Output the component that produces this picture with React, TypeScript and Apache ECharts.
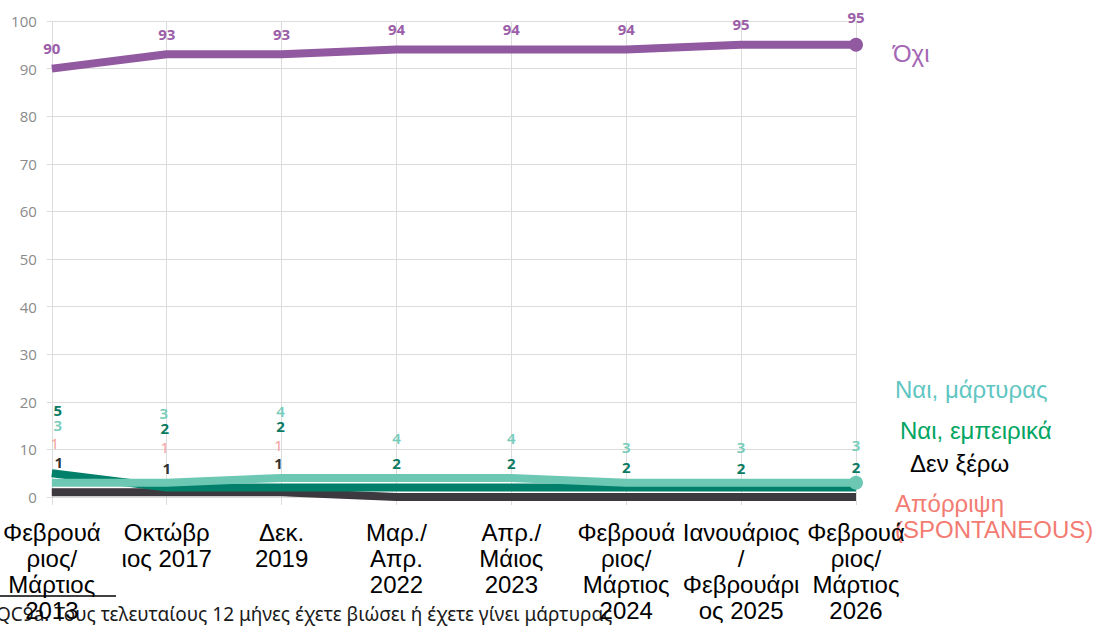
import React, { useEffect, useRef } from "react";
import * as echarts from "echarts";

const categories = [
  "Φεβρουά\nριος/\nΜάρτιος\n2013",
  "Οκτώβρ\nιος 2017",
  "Δεκ.\n2019",
  "Μαρ./\nΑπρ.\n2022",
  "Απρ./\nΜάιος\n2023",
  "Φεβρουά\nριος/\nΜάρτιος\n2024",
  "Ιανουάριος\n/\nΦεβρουάρι\nος 2025",
  "Φεβρουά\nριος/\nΜάρτιος\n2026",
];
const noValues = [90, 93, 93, 94, 94, 94, 95, 95];
const witnessValues = [3, 3, 4, 4, 4, 3, 3, 3];
const experiencedValues = [5, 2, 2, 2, 2, 2, 2, 2];
const dontKnowValues = [1, 1, 1, 0, 0, 0, 0, 0];
const refusalValues = [1, 1, 1, 0, 0, 0, 0, 0];
const seriesNames = ["Όχι", "Ναι, μάρτυρας", "Ναι, εμπειρικά", "Δεν ξέρω", "Απόρριψη (SPONTANEOUS)"];
const yMin = 0;
const yMax = 100;
const yStep = 10;
const footnote = "QC9a. Τους τελευταίους 12 μήνες έχετε βιώσει ή έχετε γίνει μάρτυρας";

// label placement (pixel offsets from the point), kept apart from the data
const witnessLabelOffsets: ([number, number] | null)[] = [[6, -58], [-3, -70], [-1, -67], [0, -40], [0, -40], [0, -36], [0, -36], [0, -38]];
const experiencedLabelOffsets: ([number, number] | null)[] = [[6, -63], [-2, -59], [-1, -61], [0, -24], [0, -24], [0, -20], [0, -19], [0, -20]];
const refusalLabelOffsets: ([number, number] | null)[] = [[3, -49], [-2, -45], [-3, -47], null, null, null, null, null];
const dontKnowLabelOffsets: ([number, number] | null)[] = [[7, -30], [0, -24], [-3, -29], null, null, null, null, null];

const BOLD_FONT = "'Noto Sans', 'DejaVu Sans', sans-serif";
const ARIAL = "'Liberation Sans', Arial, sans-serif";

function buildItems(values: number[], offsets: ([number, number] | null)[]) {
  return values.map((v, i) => ({
    value: v,
    label: offsets[i] ? { show: true, offset: offsets[i] as [number, number] } : { show: false },
  }));
}

export default function App() {
  const ref = useRef<HTMLDivElement>(null);

  useEffect(() => {
    document.body.style.margin = "0";
    if (!ref.current) return;
    const chart = echarts.init(ref.current, undefined, { renderer: "svg" });
    const last = categories.length - 1;
    const endDot = (_v: any, p: any) => (p.dataIndex === last ? 14 : 0);

    const numLabel = (color: string) => ({
      show: true,
      position: "inside" as const,
      color,
      fontFamily: BOLD_FONT,
      fontWeight: "bold",
      fontSize: 15,
    });

    chart.setOption({
      animation: false,
      grid: { left: 50, right: 237, top: 21, bottom: 131 },
      xAxis: {
        type: "category",
        data: categories,
        boundaryGap: false,
        axisLine: { show: true, lineStyle: { color: "#dcdcdc", width: 1 } },
        axisTick: { show: true, length: 8, lineStyle: { color: "#dcdcdc" } },
        splitLine: { show: true, lineStyle: { color: "#dcdcdc", width: 1 } },
        axisLabel: {
          interval: 0,
          margin: 22,
          color: "#000",
          fontFamily: ARIAL,
          fontSize: 24,
          lineHeight: 26,
        },
      },
      yAxis: {
        type: "value",
        min: yMin,
        max: yMax,
        interval: yStep,
        axisLine: { show: false },
        axisTick: { show: true, length: 5, lineStyle: { color: "#dcdcdc" } },
        splitLine: { show: true, lineStyle: { color: "#dcdcdc", width: 1 } },
        axisLabel: { margin: 15, color: "#8a8a8a", fontFamily: "'Open Sans', 'Noto Sans', sans-serif", fontSize: 15 },
      },
      series: [
        {
          name: seriesNames[4],
          type: "line",
          data: buildItems(refusalValues, refusalLabelOffsets),
          symbol: "circle",
          symbolSize: 0,
          lineStyle: { color: "#f4908e", width: 7 },
          itemStyle: { color: "#f4908e" },
          label: { ...numLabel("#f6a3a1"), fontWeight: "normal" },
          z: 2,
        },
        {
          name: seriesNames[3],
          type: "line",
          data: buildItems(dontKnowValues, dontKnowLabelOffsets),
          symbol: "circle",
          symbolSize: 0,
          lineStyle: { color: "#3c3a3e", width: 8 },
          itemStyle: { color: "#3c3a3e" },
          label: numLabel("#333333"),
          z: 3,
        },
        {
          name: seriesNames[2],
          type: "line",
          data: buildItems(experiencedValues, experiencedLabelOffsets),
          symbol: "circle",
          symbolSize: 0,
          lineStyle: { color: "#00806a", width: 8 },
          itemStyle: { color: "#00806a" },
          label: numLabel("#0b7a62"),
          z: 4,
        },
        {
          name: seriesNames[1],
          type: "line",
          data: buildItems(witnessValues, witnessLabelOffsets),
          symbol: "circle",
          symbolSize: endDot,
          lineStyle: { color: "#6cc7b3", width: 8 },
          itemStyle: { color: "#6cc7b3" },
          label: { ...numLabel("#74ccb8"), fontWeight: 600 },
          z: 5,
        },
        {
          name: seriesNames[0],
          type: "line",
          data: noValues,
          symbol: "circle",
          symbolSize: endDot,
          lineStyle: { color: "#9159a0", width: 8 },
          itemStyle: { color: "#9159a0" },
          label: {
            show: true,
            position: "top",
            distance: 13,
            color: "#9b5ea8",
            fontFamily: BOLD_FONT,
            fontWeight: "bold",
            fontSize: 15,
          },
          z: 6,
        },
      ],
      graphic: [
        { type: "text", left: 893, top: 41, style: { text: "Όχι", fill: "#a466b4", font: `24px ${ARIAL}` } },
        { type: "text", left: 895, top: 377, style: { text: "Ναι, μάρτυρας", fill: "#5fc6c2", font: `24px ${ARIAL}` } },
        { type: "text", left: 900, top: 418, style: { text: "Ναι, εμπειρικά", fill: "#00a562", font: `24px ${ARIAL}` } },
        { type: "text", left: 910, top: 451, style: { text: "Δεν ξέρω", fill: "#000000", font: `24px ${ARIAL}` } },
        { type: "text", left: 895, top: 491, style: { text: "Απόρριψη", fill: "#f37b72", font: `24px ${ARIAL}` } },
        { type: "text", left: 895, top: 517, style: { text: "(SPONTANEOUS)", fill: "#f37b72", font: `24px ${ARIAL}` } },
        { type: "line", shape: { x1: 0, y1: 596, x2: 116, y2: 596 }, style: { stroke: "#000", lineWidth: 1.5 } },
        { type: "text", left: -4, top: 604, style: { text: footnote, fill: "#1a1a1a", font: `19px 'Noto Sans', 'Open Sans', sans-serif` } },
      ],
    });

    return () => chart.dispose();
  }, []);

  return <div ref={ref} style={{ width: 1093, height: 628 }} />;
}
